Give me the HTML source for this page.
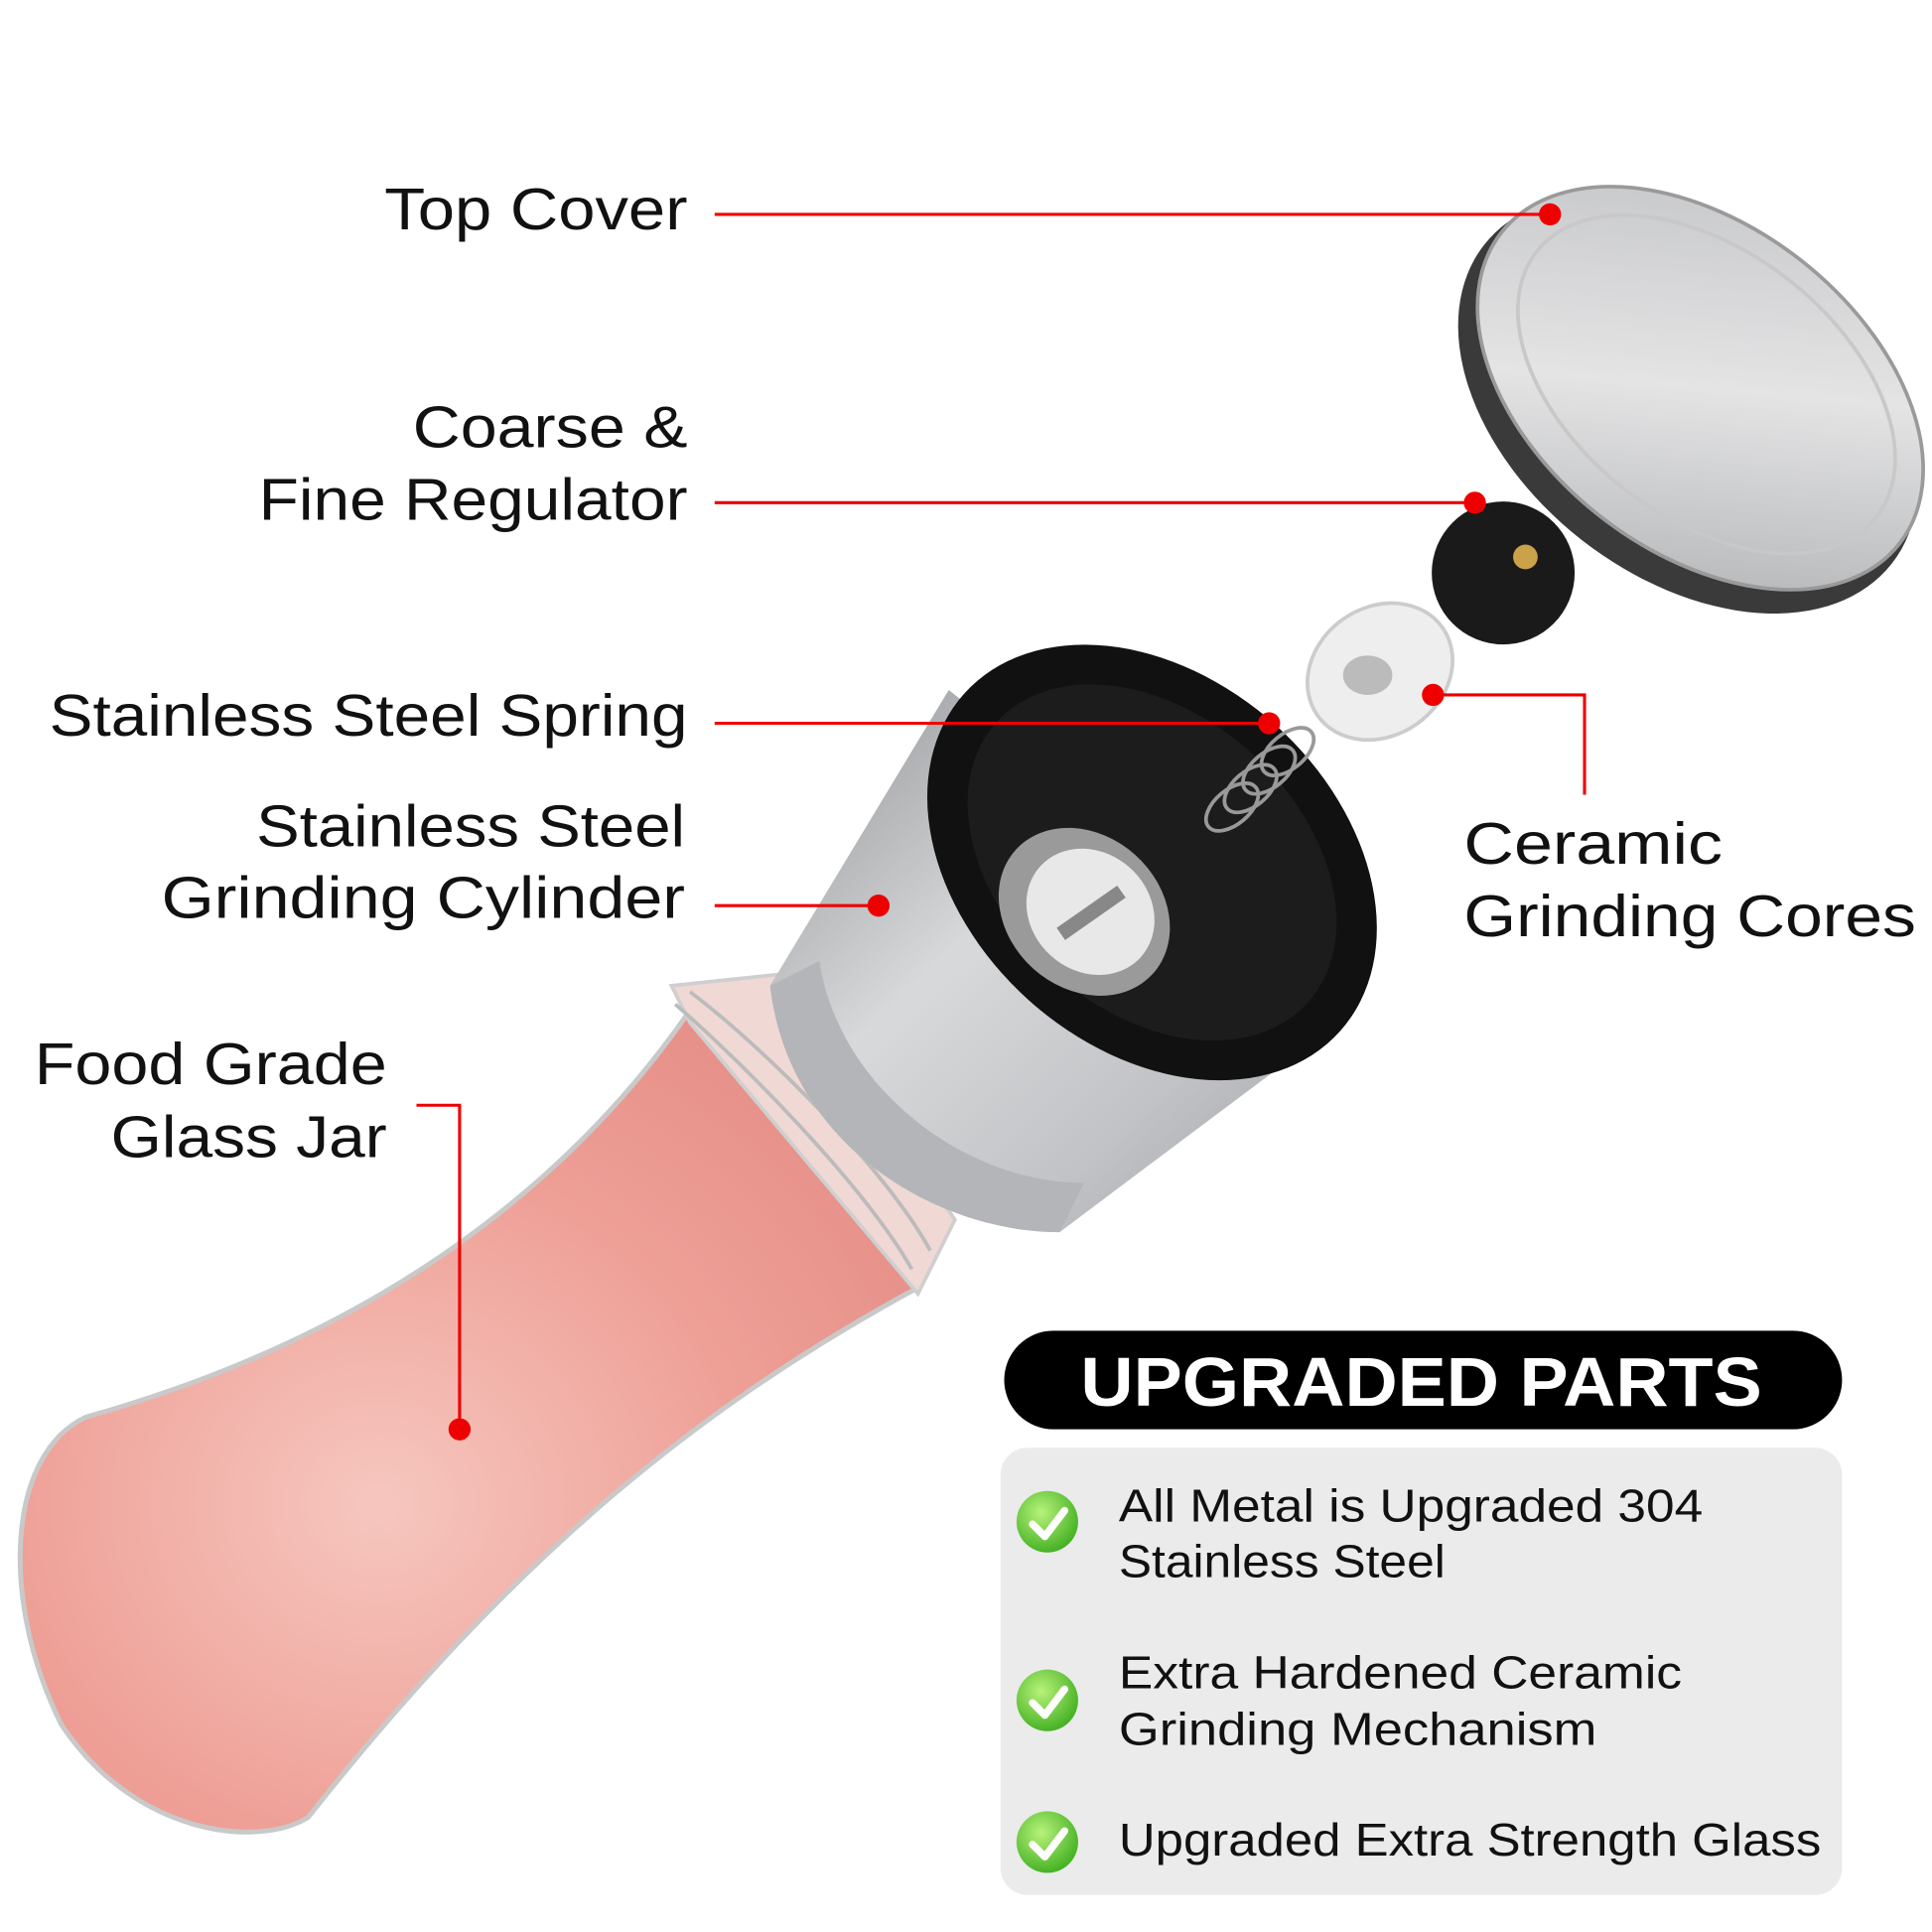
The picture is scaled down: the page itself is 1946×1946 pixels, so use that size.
<!DOCTYPE html>
<html><head><meta charset="utf-8"><style>
html,body{margin:0;padding:0;background:#fff;}
svg{display:block;}
text{font-family:"Liberation Sans",sans-serif;}
</style></head><body>
<svg width="1946" height="1946" viewBox="0 0 1568 1568" xmlns="http://www.w3.org/2000/svg">
<defs>
<linearGradient id="silver" x1="0" y1="0" x2="1" y2="1">
<stop offset="0" stop-color="#8f9194"/><stop offset="0.4" stop-color="#d8d9db"/><stop offset="0.7" stop-color="#c2c3c6"/><stop offset="1" stop-color="#9c9ea1"/></linearGradient>
<linearGradient id="cap" x1="0" y1="0" x2="1" y2="1">
<stop offset="0" stop-color="#bfc0c2"/><stop offset="0.5" stop-color="#e4e4e5"/><stop offset="1" stop-color="#a9abad"/></linearGradient>
<radialGradient id="pink" cx="0.4" cy="0.6" r="0.7">
<stop offset="0" stop-color="#f6c7bf"/><stop offset="0.6" stop-color="#ee9f96"/><stop offset="1" stop-color="#e58f88"/></radialGradient>
<radialGradient id="chk" cx="0.4" cy="0.35" r="0.7">
<stop offset="0" stop-color="#b8f27a"/><stop offset="1" stop-color="#3fae1f"/></radialGradient>
</defs>

<path d="M 560 820 C 470 950 320 1080 70 1150 C 5 1180 0 1300 50 1400 C 110 1490 210 1500 250 1475 C 420 1260 570 1140 745 1045 Z" fill="url(#pink)" stroke="#c9c9c9" stroke-width="4"/>
<path d="M 545 800 L 640 790 L 775 990 L 745 1050 L 560 830 Z" fill="#f0d8d4" stroke="#cfcfcf" stroke-width="3"/>
<g stroke="#bbb" stroke-width="3" fill="none">
<path d="M 548 815 C 600 860 700 960 740 1030"/>
<path d="M 560 805 C 620 850 720 950 755 1015"/>
</g>

<path d="M 770 560 L 1100 820 L 860 1000 C 760 1000 640 930 625 800 Z" fill="url(#silver)"/>
<path d="M 625 800 C 640 930 760 1000 860 1000 L 880 960 C 780 960 680 880 665 780 Z" fill="#b3b5b8"/>
<ellipse cx="935" cy="700" rx="205" ry="150" transform="rotate(42 935 700)" fill="#111"/>
<ellipse cx="935" cy="700" rx="170" ry="120" transform="rotate(42 935 700)" fill="#1c1c1c"/>
<ellipse cx="880" cy="740" rx="75" ry="62" transform="rotate(42 880 740)" fill="#9a9a9a"/>
<ellipse cx="885" cy="740" rx="55" ry="48" transform="rotate(42 885 740)" fill="#e8e8e8"/>
<rect x="855" y="735" width="60" height="12" fill="#888" transform="rotate(-35 885 740)"/>

<g fill="none" stroke="#999" stroke-width="3">
<ellipse cx="1000" cy="655" rx="25" ry="14" transform="rotate(-40 1000 655)"/>
<ellipse cx="1015" cy="640" rx="25" ry="14" transform="rotate(-40 1015 640)"/>
<ellipse cx="1030" cy="625" rx="25" ry="14" transform="rotate(-40 1030 625)"/>
<ellipse cx="1045" cy="610" rx="25" ry="14" transform="rotate(-40 1045 610)"/>
</g>

<ellipse cx="1120" cy="545" rx="62" ry="52" transform="rotate(-35 1120 545)" fill="#eeeeee" stroke="#ccc" stroke-width="3"/>
<ellipse cx="1110" cy="548" rx="20" ry="16" fill="#bbb"/>

<circle cx="1220" cy="465" r="58" fill="#1a1a1a"/>
<circle cx="1238" cy="452" r="10" fill="#c9a24a"/>

<ellipse cx="1370" cy="328" rx="210" ry="140" transform="rotate(38 1370 328)" fill="#3a3a3a"/>
<ellipse cx="1380" cy="315" rx="205" ry="132" transform="rotate(38 1380 315)" fill="url(#cap)" stroke="#9a9a9a" stroke-width="3"/>
<ellipse cx="1385" cy="312" rx="175" ry="108" transform="rotate(38 1385 312)" fill="none" stroke="#c8c8c8" stroke-width="3"/>

<g stroke="#e00" stroke-width="2.5" fill="none">
<line x1="580" y1="174" x2="1258" y2="174"/>
<line x1="580" y1="408" x2="1197" y2="408"/>
<line x1="580" y1="587" x2="1030" y2="587"/>
<line x1="580" y1="735" x2="713" y2="735"/>
<polyline points="338,897 373,897 373,1160"/>
<polyline points="1163,564 1286,564 1286,645"/>
</g>
<g fill="#e00">
<circle cx="1258" cy="174" r="9"/><circle cx="1197" cy="408" r="9"/>
<circle cx="1030" cy="587" r="9"/><circle cx="713" cy="735" r="9"/>
<circle cx="373" cy="1160" r="9"/><circle cx="1163" cy="564" r="9"/>
</g>

<g font-size="48" fill="#111">
<text x="312" y="186" textLength="246" lengthAdjust="spacingAndGlyphs">Top Cover</text>
<text x="335" y="363" textLength="223" lengthAdjust="spacingAndGlyphs">Coarse &amp;</text>
<text x="210" y="422" textLength="348" lengthAdjust="spacingAndGlyphs">Fine Regulator</text>
<text x="40" y="597" textLength="518" lengthAdjust="spacingAndGlyphs">Stainless Steel Spring</text>
<text x="208" y="687" textLength="348" lengthAdjust="spacingAndGlyphs">Stainless Steel</text>
<text x="131" y="745" textLength="425" lengthAdjust="spacingAndGlyphs">Grinding Cylinder</text>
<text x="28" y="880" textLength="286" lengthAdjust="spacingAndGlyphs">Food Grade</text>
<text x="90" y="939" textLength="224" lengthAdjust="spacingAndGlyphs">Glass Jar</text>
<text x="1188" y="701" textLength="210" lengthAdjust="spacingAndGlyphs">Ceramic</text>
<text x="1188" y="760" textLength="367" lengthAdjust="spacingAndGlyphs">Grinding Cores</text>
</g>

<rect x="815" y="1080" width="680" height="80" rx="40" fill="#000"/>
<text x="877" y="1141" textLength="553" lengthAdjust="spacingAndGlyphs" font-size="56" font-weight="bold" fill="#fff">UPGRADED PARTS</text>
<rect x="812" y="1175" width="683" height="363" rx="22" fill="#ebebeb"/>
<g>
<circle cx="850" cy="1235" r="25" fill="url(#chk)"/>
<circle cx="850" cy="1380" r="25" fill="url(#chk)"/>
<circle cx="850" cy="1495" r="25" fill="url(#chk)"/>
<g fill="none" stroke="#fff" stroke-width="6" stroke-linecap="round" stroke-linejoin="round">
<polyline points="838,1237 848,1247 864,1226"/>
<polyline points="838,1382 848,1392 864,1371"/>
<polyline points="838,1497 848,1507 864,1486"/>
</g>
</g>
<g font-size="37" fill="#111">
<text x="908" y="1235" textLength="474" lengthAdjust="spacingAndGlyphs">All Metal is Upgraded 304</text>
<text x="908" y="1280" textLength="265" lengthAdjust="spacingAndGlyphs">Stainless Steel</text>
<text x="908" y="1370" textLength="457" lengthAdjust="spacingAndGlyphs">Extra Hardened Ceramic</text>
<text x="908" y="1416" textLength="388" lengthAdjust="spacingAndGlyphs">Grinding Mechanism</text>
<text x="908" y="1506" textLength="570" lengthAdjust="spacingAndGlyphs">Upgraded Extra Strength Glass</text>
</g>
</svg>
</body></html>
